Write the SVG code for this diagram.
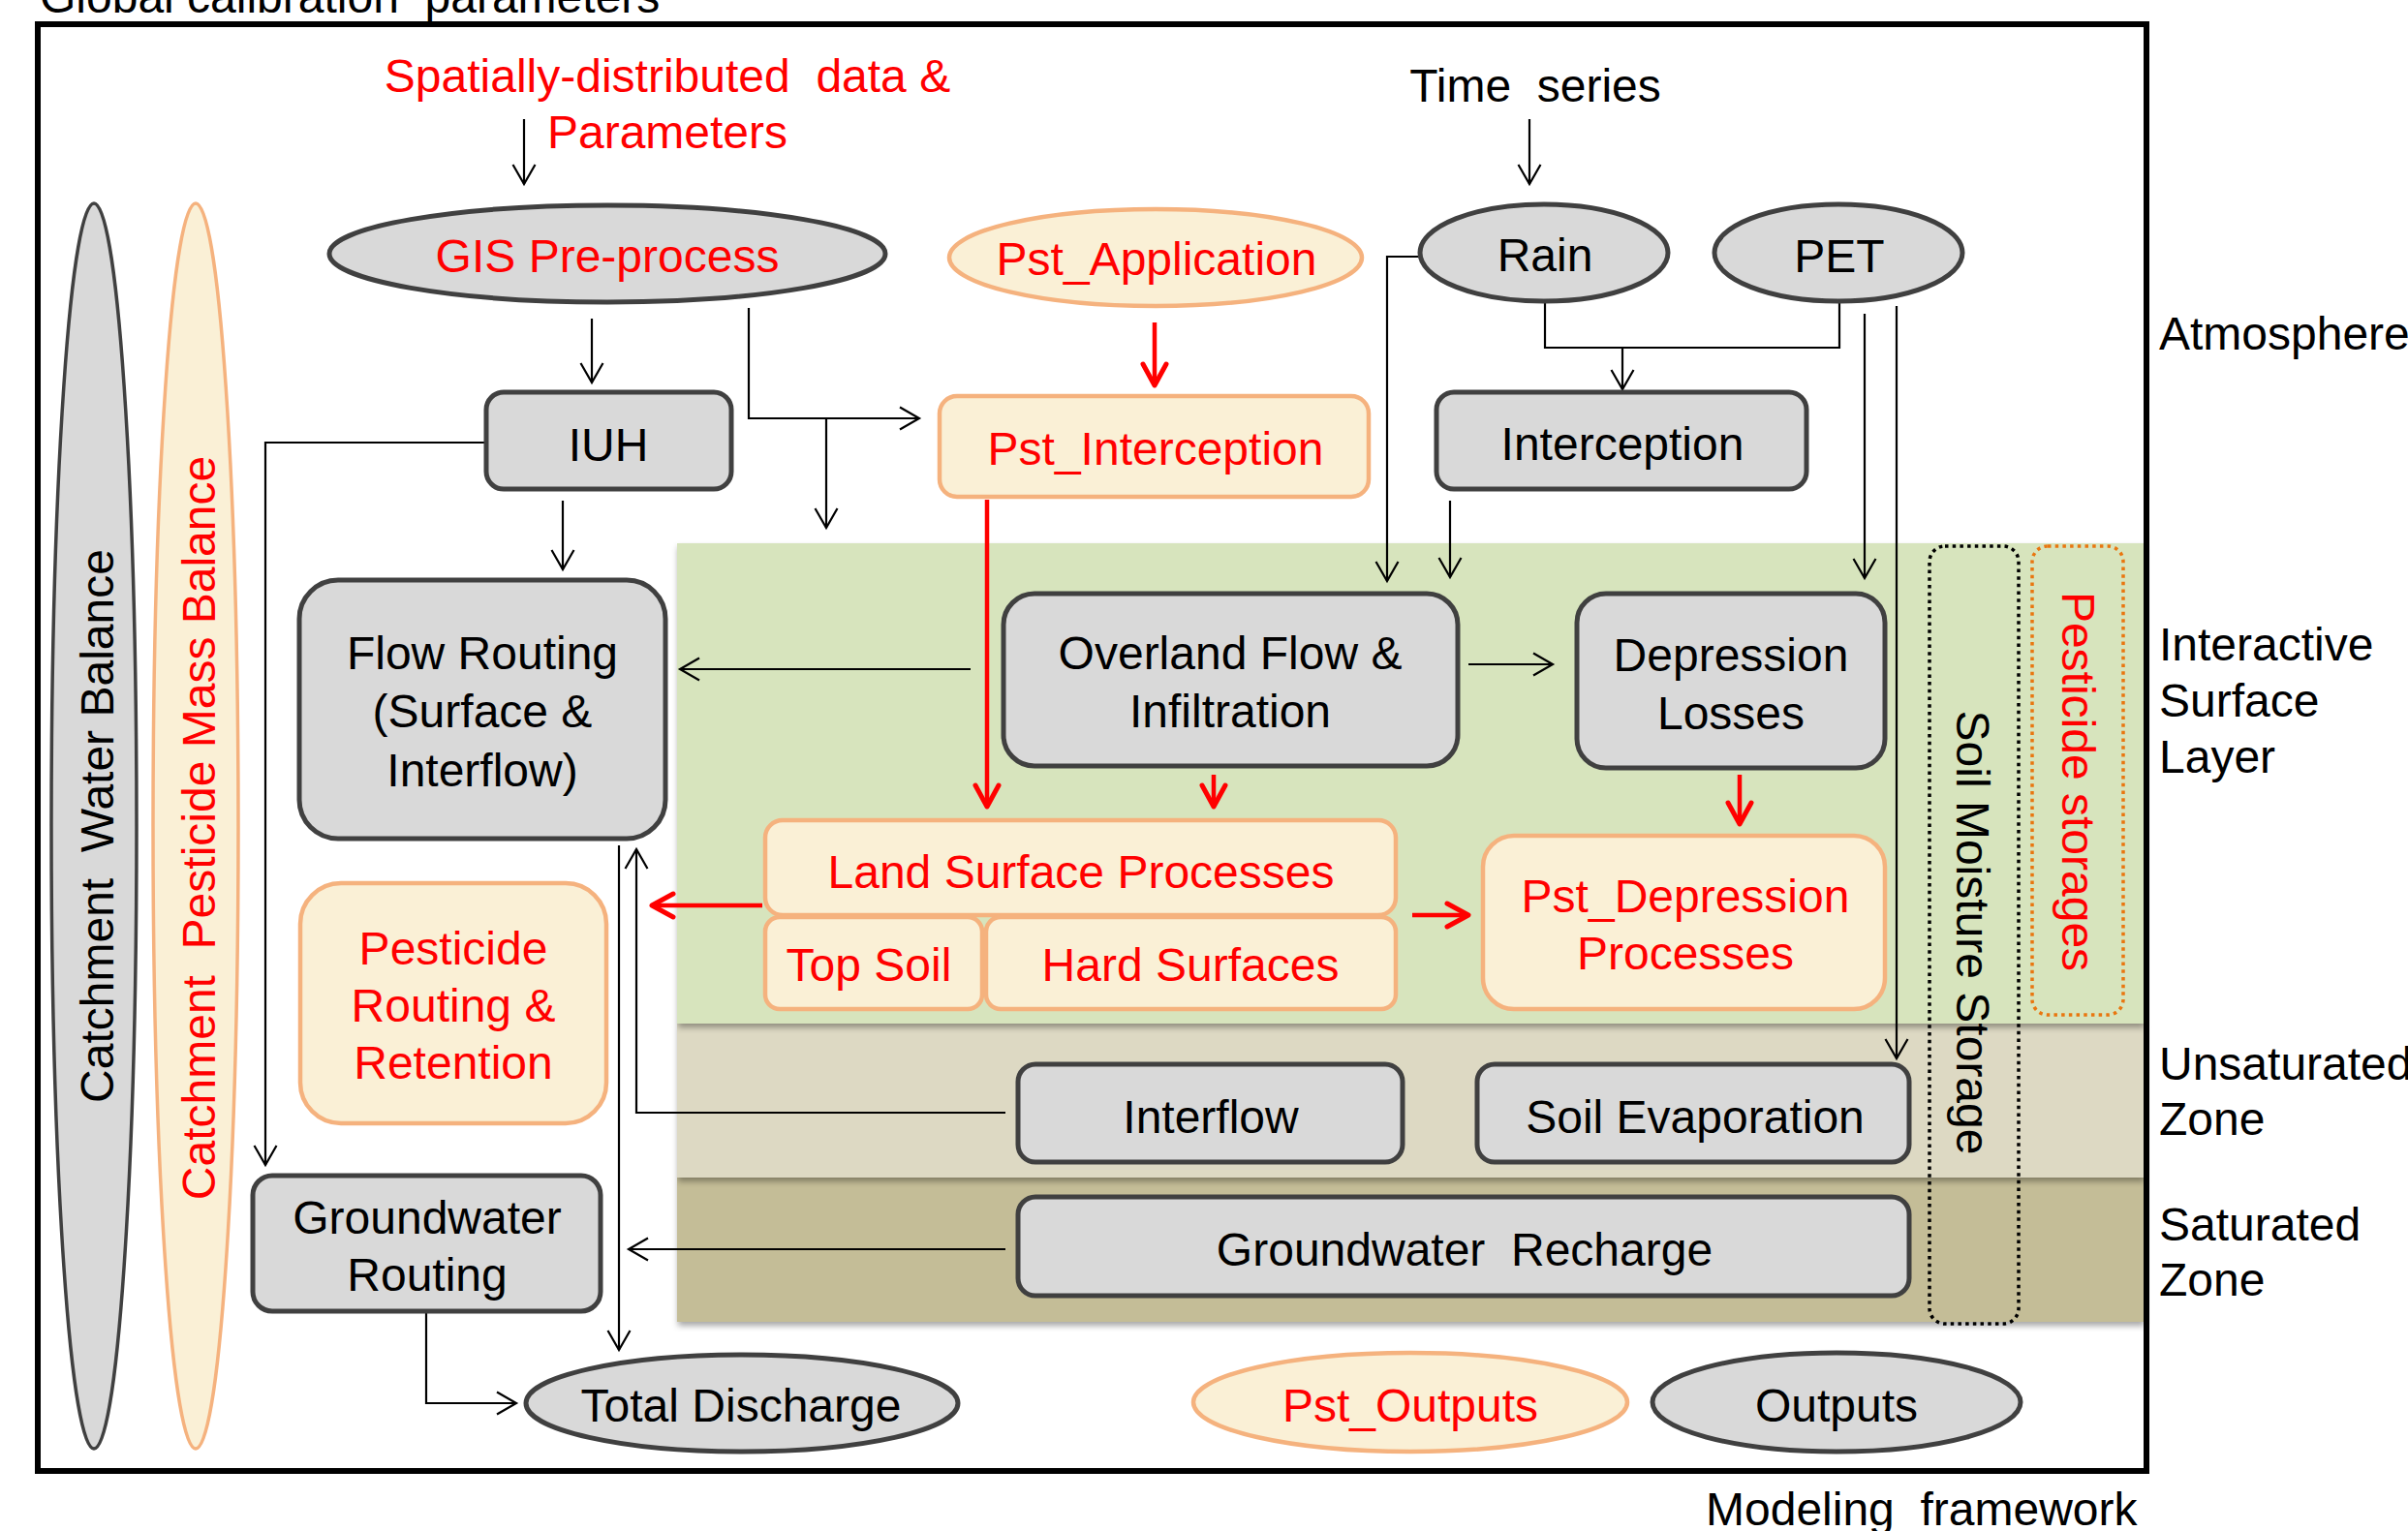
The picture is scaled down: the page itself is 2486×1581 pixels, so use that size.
<svg xmlns="http://www.w3.org/2000/svg" width="2486" height="1581" viewBox="0 0 2486 1581">
<style>
text{font-family:"Liberation Sans",Arial,sans-serif;font-size:48px;fill:#000;white-space:pre}
.red{fill:#FF0000}
.mid{text-anchor:middle}
.g{fill:#D9D9D9;stroke:#404040;stroke-width:5}
.p{fill:#FAF0D6;stroke:#F5B27E;stroke-width:4.5}
.cb{fill:none;stroke:#000;stroke-width:2.2;marker-end:url(#ab)}
.cn{fill:none;stroke:#000;stroke-width:2.2}
.cr{fill:none;stroke:#FF0000;stroke-width:4.5;marker-end:url(#ar)}
</style>
<defs>
<marker id="ab" markerUnits="userSpaceOnUse" orient="auto" viewBox="-25 -15 30 30" markerWidth="30" markerHeight="30" refX="0" refY="0">
<path d="M-20,-11.5 L0,0 L-20,11.5" fill="none" stroke="#000" stroke-width="2.2"/>
</marker>
<marker id="ar" markerUnits="userSpaceOnUse" orient="auto" viewBox="-28 -16 32 32" markerWidth="32" markerHeight="32" refX="0" refY="0">
<path d="M-22,-12 L0,0 L-22,12" fill="none" stroke="#FF0000" stroke-width="5" stroke-linecap="round" stroke-linejoin="round"/>
</marker>
<filter id="sh" x="-5%" y="-10%" width="110%" height="125%">
<feDropShadow dx="1" dy="4" stdDeviation="3" flood-color="#000" flood-opacity="0.35"/>
</filter>
</defs>
<rect width="2486" height="1581" fill="#fff"/>

<g id="layers">
<rect x="699" y="1216" width="1514" height="149" fill="#C4BD97" filter="url(#sh)"/>
<rect x="699" y="1057" width="1514" height="159" fill="#DDD9C3" filter="url(#sh)"/>
<rect x="699" y="561" width="1514" height="496" fill="#D7E4BD" filter="url(#sh)"/>
</g>

<text x="41" y="13">Global calibration  parameters</text>
<rect id="frame" x="39" y="25" width="2177" height="1494" fill="none" stroke="#000" stroke-width="6"/>

<g id="labels">
<text class="red mid" x="689" y="95">Spatially-distributed  data &amp;</text>
<text class="red mid" x="689" y="153">Parameters</text>
<text class="mid" x="1585" y="105">Time  series</text>
<text x="2229" y="361">Atmosphere</text>
<text x="2229" y="682">Interactive</text>
<text x="2229" y="740">Surface</text>
<text x="2229" y="798">Layer</text>
<text x="2229" y="1115">Unsaturated</text>
<text x="2229" y="1172">Zone</text>
<text x="2229" y="1281">Saturated</text>
<text x="2229" y="1338">Zone</text>
<text x="1761" y="1575">Modeling  framework</text>
</g>

<g id="water-balance">
<ellipse cx="97" cy="853" rx="44" ry="643" fill="#D9D9D9" stroke="#404040" stroke-width="3.5"/>
<text class="mid" transform="translate(117,853) rotate(-90)">Catchment  Water Balance</text>
</g>
<g id="pesticide-balance">
<ellipse cx="202" cy="853" rx="44" ry="643" fill="#FAF0D6" stroke="#F5B27E" stroke-width="3.5"/>
<text class="red mid" transform="translate(222,855) rotate(-90)">Catchment  Pesticide Mass Balance</text>
</g>

<g id="soil-moisture">
<rect x="1992" y="564" width="92" height="803" rx="16" fill="none" stroke="#000" stroke-width="3.5" stroke-dasharray="3.5 4.2"/>
<text class="mid" transform="translate(2020,963) rotate(90)">Soil Moisture Storage</text>
</g>
<g id="pesticide-storages">
<rect x="2098" y="564" width="94" height="484" rx="16" fill="none" stroke="#E9760F" stroke-width="3.5" stroke-dasharray="3.5 4.2"/>
<text class="red mid" transform="translate(2129,807) rotate(90)">Pesticide storages</text>
</g>

<g id="connectors">
<path class="cb" d="M541 123 V190"/>
<path class="cb" d="M1579 123 V190"/>
<path class="cb" d="M611 329 V395"/>
<path class="cb" d="M773 318 V432 H949"/>
<path class="cb" d="M853 432 V545"/>
<path class="cb" d="M581 517 V588"/>
<path class="cb" d="M501 457 H274 V1203"/>
<path class="cb" d="M1465 265 H1432 V600"/>
<path class="cn" d="M1595 312 V359 H1899 V312"/>
<path class="cb" d="M1675 359 V402"/>
<path class="cb" d="M1497 517 V596"/>
<path class="cb" d="M1925 324 V597"/>
<path class="cb" d="M1958 316 V1093"/>
<path class="cb" d="M1002 691 H702"/>
<path class="cb" d="M1516 686 H1603"/>
<path class="cb" d="M1038 1149 H657 V877"/>
<path class="cb" d="M639 873 V1394"/>
<path class="cb" d="M1038 1290 H649"/>
<path class="cb" d="M440 1355 V1449 H533"/>
<path class="cr" d="M1192 333 V398"/>
<path class="cr" d="M1019 516 V833"/>
<path class="cr" d="M1253 800 V833"/>
<path class="cr" d="M1796 800 V851"/>
<path class="cr" d="M787 935 H673"/>
<path class="cr" d="M1458 945 H1516"/>
</g>

<g id="gis-preprocess">
<ellipse class="g" cx="627" cy="262" rx="287" ry="50"/>
<text class="red mid" x="627" y="281">GIS Pre-process</text>
</g>
<g id="pst-application">
<ellipse class="p" cx="1193" cy="266" rx="213" ry="50"/>
<text class="red mid" x="1194" y="284">Pst_Application</text>
</g>
<g id="rain">
<ellipse class="g" cx="1594" cy="261" rx="128" ry="50"/>
<text class="mid" x="1595" y="280">Rain</text>
</g>
<g id="pet">
<ellipse class="g" cx="1898" cy="261" rx="128" ry="50"/>
<text class="mid" x="1899" y="281">PET</text>
</g>
<g id="iuh">
<rect class="g" x="502" y="405" width="253" height="100" rx="18"/>
<text class="mid" x="628" y="476">IUH</text>
</g>
<g id="pst-interception">
<rect class="p" x="970" y="409" width="443" height="104" rx="18"/>
<text class="red mid" x="1193" y="480">Pst_Interception</text>
</g>
<g id="interception">
<rect class="g" x="1483" y="405" width="382" height="100" rx="18"/>
<text class="mid" x="1675" y="475">Interception</text>
</g>
<g id="flow-routing">
<rect class="g" x="309" y="599" width="378" height="267" rx="40"/>
<text class="mid" x="498" y="691">Flow Routing</text>
<text class="mid" x="498" y="751">(Surface &amp;</text>
<text class="mid" x="498" y="812">Interflow)</text>
</g>
<g id="overland-flow">
<rect class="g" x="1036" y="613" width="469" height="178" rx="32"/>
<text class="mid" x="1270" y="691">Overland Flow &amp;</text>
<text class="mid" x="1270" y="751">Infiltration</text>
</g>
<g id="depression-losses">
<rect class="g" x="1628" y="613" width="318" height="180" rx="30"/>
<text class="mid" x="1787" y="693">Depression</text>
<text class="mid" x="1787" y="753">Losses</text>
</g>
<g id="land-surface">
<rect class="p" x="790" y="847" width="651" height="98" rx="18"/>
<text class="red mid" x="1116" y="917">Land Surface Processes</text>
</g>
<g id="top-soil">
<rect class="p" x="790" y="947" width="224" height="95" rx="15"/>
<text class="red mid" x="897" y="1013">Top Soil</text>
</g>
<g id="hard-surfaces">
<rect class="p" x="1018" y="947" width="423" height="95" rx="15"/>
<text class="red mid" x="1229" y="1013">Hard Surfaces</text>
</g>
<g id="pst-depression">
<rect class="p" x="1531" y="863" width="415" height="179" rx="32"/>
<text class="red mid" x="1740" y="942">Pst_Depression</text>
<text class="red mid" x="1740" y="1001">Processes</text>
</g>
<g id="pesticide-routing">
<rect class="p" x="310" y="912" width="316" height="248" rx="42"/>
<text class="red mid" x="468" y="996">Pesticide</text>
<text class="red mid" x="468" y="1055">Routing &amp;</text>
<text class="red mid" x="468" y="1114">Retention</text>
</g>
<g id="groundwater-routing">
<rect class="g" x="261" y="1214" width="359" height="140" rx="20"/>
<text class="mid" x="441" y="1274">Groundwater</text>
<text class="mid" x="441" y="1333">Routing</text>
</g>
<g id="interflow">
<rect class="g" x="1051" y="1099" width="397" height="101" rx="18"/>
<text class="mid" x="1250" y="1170">Interflow</text>
</g>
<g id="soil-evaporation">
<rect class="g" x="1525" y="1099" width="446" height="101" rx="18"/>
<text class="mid" x="1750" y="1170">Soil Evaporation</text>
</g>
<g id="groundwater-recharge">
<rect class="g" x="1051" y="1236" width="920" height="102" rx="18"/>
<text class="mid" x="1512" y="1307">Groundwater  Recharge</text>
</g>
<g id="total-discharge">
<ellipse class="g" cx="766" cy="1449" rx="223" ry="50"/>
<text class="mid" x="765" y="1468">Total Discharge</text>
</g>
<g id="pst-outputs">
<ellipse class="p" cx="1456" cy="1448" rx="224" ry="51"/>
<text class="red mid" x="1456" y="1468">Pst_Outputs</text>
</g>
<g id="outputs">
<ellipse class="g" cx="1896" cy="1448" rx="190" ry="51"/>
<text class="mid" x="1896" y="1468">Outputs</text>
</g>
</svg>
